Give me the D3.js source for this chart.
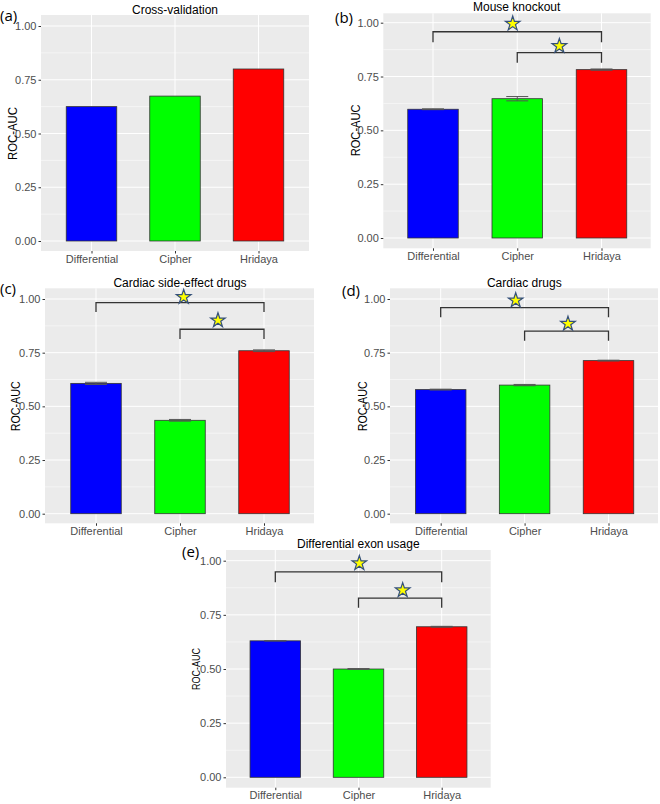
<!DOCTYPE html>
<html>
<head>
<meta charset="utf-8">
<script src="https://cdn.jsdelivr.net/npm/d3@7"></script>
<style>
  html, body { margin: 0; padding: 0; background: #fff; }
  svg { display: block; }
</style>
</head>
<body>
<svg id="chart" width="660" height="804"></svg>
<script>
// ---------------- DATA ----------------
const categories = ["Differential", "Cipher", "Hridaya"];
const panelIds = ["(a)", "(b)", "(c)", "(d)", "(e)"];
const panelTitles = ["Cross-validation", "Mouse knockout", "Cardiac side-effect drugs", "Cardiac drugs", "Differential exon usage"];
const aucValues = [
  [0.625, 0.674, 0.800],
  [0.598, 0.647, 0.782],
  [0.607, 0.435, 0.759],
  [0.578, 0.599, 0.713],
  [0.630, 0.500, 0.695]
];
const aucErrors = [
  [0, 0, 0],
  [0.002, 0.010, 0.003],
  [0.005, 0.004, 0.004],
  [0.002, 0.003, 0.002],
  [0.000, 0.002, 0.002]
];
const yTicks = [0, 0.25, 0.5, 0.75, 1.0];
const yMinorTicks = [0.125, 0.375, 0.625, 0.875];
// brackets: [fromCategoryIndex, toCategoryIndex, topValue, dropValue]
const bracketsWide = [null, [0, 2, 0.958, 0.909], [0, 2, 0.983, 0.939], [0, 2, 0.960, 0.915], [0, 2, 0.948, 0.900]];
const bracketsNarrow = [null, [1, 2, 0.861, 0.814], [1, 2, 0.859, 0.814], [1, 2, 0.850, 0.806], [1, 2, 0.827, 0.783]];
// stars: [categoryIndexPosition, value]
const starsWide = [null, [0.946, 1.000], [1.044, 1.014], [0.894, 0.998], [1.010, 0.993]];
const starsNarrow = [null, [1.500, 0.896], [1.452, 0.905], [1.517, 0.889], [1.531, 0.868]];

// ---------------- STYLE / LAYOUT ----------------
const barColors = ["#0000FF", "#00FF00", "#FF0000"];
const layouts = [
  {left: 41, right: 309, top: 15, bottom: 251, y0: 241, y1: 26, c1: 91.5, c3: 258.5, tx: 175, ty: 14, lx: 0, ly: 21, yl: 12, ylLen: 53, ylSize: 13},
  {left: 383.3, right: 650.7, top: 13.3, bottom: 248.3, y0: 238, y1: 22.7, c1: 433, c3: 601.5, tx: 516.7, ty: 11, lx: 335, ly: 23, yl: 355, ylLen: 52, ylSize: 13},
  {left: 45, right: 314, top: 288.3, bottom: 523.3, y0: 513.7, y1: 299, c1: 96, c3: 264, tx: 180, ty: 286.5, lx: 0, ly: 294, yl: 15, ylLen: 50, ylSize: 13},
  {left: 390, right: 658, top: 288.3, bottom: 523.3, y0: 513.7, y1: 299, c1: 440.7, c3: 608.5, tx: 524.3, ty: 286.5, lx: 342, ly: 295.5, yl: 362, ylLen: 50, ylSize: 13},
  {left: 226, right: 490.7, top: 550, bottom: 787.7, y0: 777.3, y1: 560.7, c1: 275.3, c3: 441.7, tx: 358.3, ty: 547.5, lx: 182, ly: 557, yl: 195.7, ylLen: 42, ylSize: 11}
];
const sansFont = "'Liberation Sans', Arial, Helvetica, sans-serif";
const labelFont = "'Open Sans', 'Noto Sans', sans-serif";
const barWidth = 50.5;
const capWidth = 22;

const svg = d3.select("#chart");

panelIds.forEach((pid, p) => {
  const L = layouts[p];
  const g = svg.append("g");

  const y = d3.scaleLinear().domain([0, 1]).range([L.y0, L.y1]);
  const x = d3.scalePoint().domain(categories).range([L.c1, L.c3]);
  const xi = d3.scaleLinear().domain([0, categories.length - 1]).range([L.c1, L.c3]);

  // panel background
  g.append("rect")
    .attr("x", L.left).attr("y", L.top)
    .attr("width", L.right - L.left).attr("height", L.bottom - L.top)
    .attr("fill", "#EBEBEB");

  // minor grid
  g.selectAll(".minor").data(yMinorTicks).enter().append("line")
    .attr("x1", L.left).attr("x2", L.right)
    .attr("y1", d => y(d)).attr("y2", d => y(d))
    .attr("stroke", "#FFFFFF").attr("stroke-width", 0.5);
  // major grid
  g.selectAll(".major").data(yTicks).enter().append("line")
    .attr("x1", L.left).attr("x2", L.right)
    .attr("y1", d => y(d)).attr("y2", d => y(d))
    .attr("stroke", "#FFFFFF").attr("stroke-width", 1);
  g.selectAll(".vmajor").data(categories).enter().append("line")
    .attr("x1", d => x(d)).attr("x2", d => x(d))
    .attr("y1", L.top).attr("y2", L.bottom)
    .attr("stroke", "#FFFFFF").attr("stroke-width", 1);

  // bars
  const rows = categories.map((c, i) => ({cat: c, v: aucValues[p][i], e: aucErrors[p][i], col: barColors[i]}));
  g.selectAll(".bar").data(rows).enter().append("rect")
    .attr("x", d => x(d.cat) - barWidth / 2)
    .attr("width", barWidth)
    .attr("y", d => y(d.v))
    .attr("height", d => y(0) - y(d.v))
    .attr("fill", d => d.col)
    .attr("stroke", "#333333").attr("stroke-width", 0.8);

  // error bars
  if (p > 0) {
    const eb = g.selectAll(".err").data(rows).enter().append("g");
    eb.append("line")
      .attr("x1", d => x(d.cat)).attr("x2", d => x(d.cat))
      .attr("y1", d => y(d.v + d.e)).attr("y2", d => y(d.v - d.e))
      .attr("stroke", "#555").attr("stroke-width", 1);
    eb.append("line")
      .attr("x1", d => x(d.cat) - capWidth / 2).attr("x2", d => x(d.cat) + capWidth / 2)
      .attr("y1", d => y(d.v + d.e)).attr("y2", d => y(d.v + d.e))
      .attr("stroke", "#555").attr("stroke-width", 1);
    eb.append("line")
      .attr("x1", d => x(d.cat) - capWidth / 2).attr("x2", d => x(d.cat) + capWidth / 2)
      .attr("y1", d => y(d.v - d.e)).attr("y2", d => y(d.v - d.e))
      .attr("stroke", "#555").attr("stroke-width", 1);
  }

  // axes
  const yAxis = d3.axisLeft(y).tickValues(yTicks).tickFormat(d3.format(".2f")).tickSize(2.5).tickPadding(2);
  const ya = g.append("g").attr("transform", `translate(${L.left},0)`).call(yAxis);
  ya.select(".domain").remove();
  ya.selectAll(".tick line").attr("stroke", "#333");
  ya.selectAll(".tick text").attr("fill", "#4D4D4D").style("font-family", sansFont).style("font-size", "11px");

  const xAxis = d3.axisBottom(x).tickSize(2.5).tickPadding(1.5);
  const xa = g.append("g").attr("transform", `translate(0,${L.bottom})`).call(xAxis);
  xa.select(".domain").remove();
  xa.selectAll(".tick line").attr("stroke", "#333");
  xa.selectAll(".tick text").attr("fill", "#4D4D4D").style("font-family", sansFont).style("font-size", "11px");

  // y axis title
  const ymid = (y(0) + y(1)) / 2;
  g.append("text")
    .attr("transform", `translate(${L.yl + L.ylSize * 0.35},${ymid}) rotate(-90)`)
    .attr("text-anchor", "middle")
    .attr("textLength", L.ylLen).attr("lengthAdjust", "spacingAndGlyphs")
    .style("font-family", sansFont).style("font-size", L.ylSize + "px")
    .attr("fill", "#000")
    .text("ROC-AUC");

  // title
  g.append("text")
    .attr("x", L.tx).attr("y", L.ty)
    .attr("text-anchor", "middle")
    .style("font-family", sansFont).style("font-size", "12px")
    .attr("fill", "#000")
    .text(panelTitles[p]);

  // panel label
  g.append("text")
    .attr("x", L.lx).attr("y", L.ly)
    .style("font-family", labelFont).style("font-size", "15px")
    .attr("fill", "#000")
    .text(pid);

  // significance brackets
  [bracketsWide[p], bracketsNarrow[p]].forEach(b => {
    if (!b) return;
    const path = d3.path();
    path.moveTo(xi(b[0]), y(b[3]));
    path.lineTo(xi(b[0]), y(b[2]));
    path.lineTo(xi(b[1]), y(b[2]));
    path.lineTo(xi(b[1]), y(b[3]));
    g.append("path").attr("d", path.toString())
      .attr("fill", "none").attr("stroke", "#333").attr("stroke-width", 1.3);
  });
  [starsWide[p], starsNarrow[p]].forEach(s => {
    if (!s) return;
    g.append("path")
      .attr("d", d3.symbol(d3.symbolStar).size(66)())
      .attr("transform", `translate(${xi(s[0])},${y(s[1]) + 1})`)
      .attr("fill", "#FFFF00").attr("stroke", "#34507A").attr("stroke-width", 1.2);
  });
});
</script>
</body>
</html>
